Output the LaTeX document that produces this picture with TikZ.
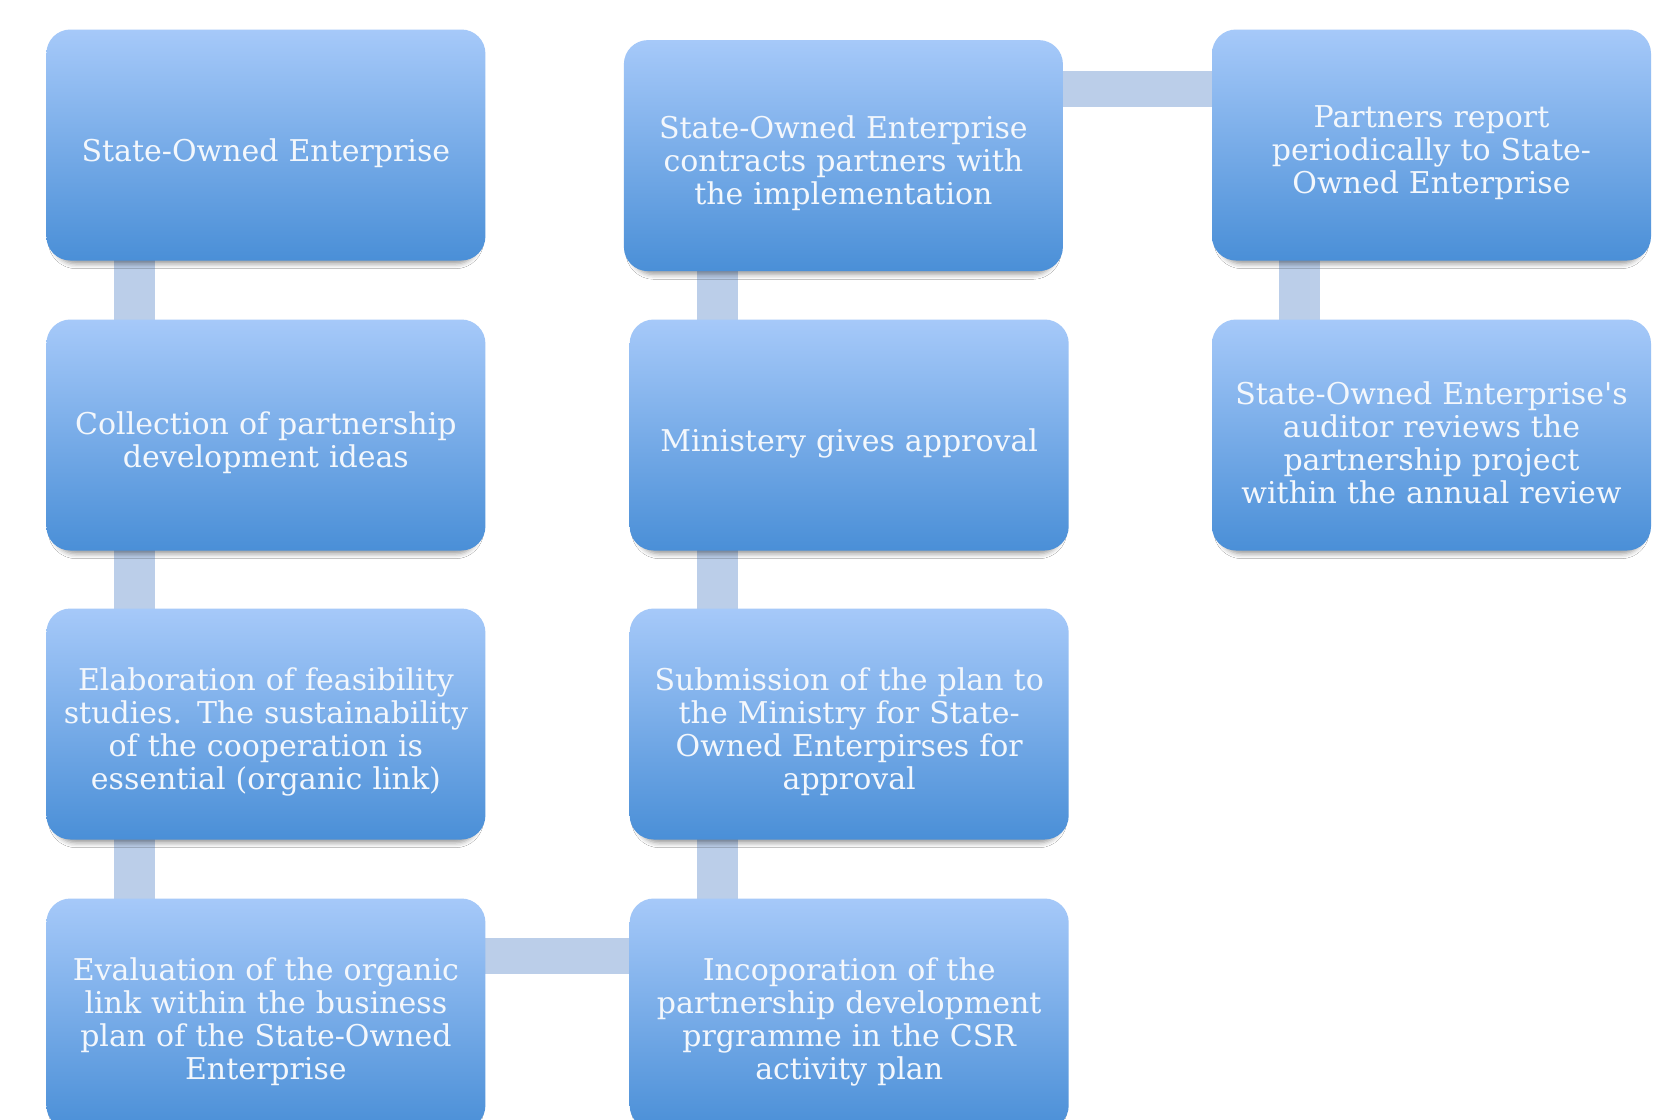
\documentclass[tikz,border=0pt]{standalone}
\usepackage{fontspec}
\setmainfont{DejaVu Serif}
\usetikzlibrary{shadows.blur,backgrounds,calc}
\definecolor{boxtop}{RGB}{166,201,249}
\definecolor{boxbot}{RGB}{74,143,215}
\definecolor{linkc}{RGB}{187,206,233}
\definecolor{txt}{RGB}{243,247,252}
\tikzset{
  stepbox/.style={rounded corners=24pt, minimum width=439pt, minimum height=231pt,
    top color=boxtop, bottom color=boxbot, inner sep=0pt,
    blur shadow={shadow xshift=0pt, shadow yshift=-7pt, shadow blur radius=5pt,
      shadow scale=0.97, shadow opacity=40}},
  steptext/.style={text=txt, text width=420pt, align=center, inner sep=0pt,
    font=\fontsize{30pt}{33pt}\selectfont},
  linkbar/.style={draw=linkc, line width=41pt},
  hlinkbar/.style={draw=linkc, line width=36pt}
}
\newcommand\stepnode[3]{%
  \node[stepbox] (#1) at (#2) {};
  \node[steptext] (#1t) at ([yshift=-8pt]#1.center) {#3};}
\begin{document}
\begin{tikzpicture}[x=1pt,y=-1pt]
\useasboundingbox (0,0) rectangle (1654,1119);
\clip (0,0) rectangle (1654,1119);
\stepnode{A1}{265.9,145}{State-Owned Enterprise}
\stepnode{A2}{265.9,435}{Collection of partnership\\development ideas}
\stepnode{A3}{265.9,724}{Elaboration of feasibility\\studies. The sustainability\\of the cooperation is\\essential (organic link)}
\stepnode{A4}{265.9,1014}{Evaluation of the organic\\link within the business\\plan of the State-Owned\\Enterprise}
\stepnode{B1}{843.4,155.6}{State-Owned Enterprise\\contracts partners with\\the implementation}
\stepnode{B2}{849.2,435}{Ministery gives approval}
\stepnode{B3}{849.2,724}{Submission of the plan to\\the Ministry for State-\\Owned Enterpirses for\\approval}
\stepnode{B4}{849.2,1014}{Incoporation of the\\partnership development\\prgramme in the CSR\\activity plan}
\stepnode{C1}{1431.5,145}{Partners report\\periodically to State-\\Owned Enterprise}
\stepnode{C2}{1431.5,435}{State-Owned Enterprise\textquotesingle s\\auditor reviews the\\partnership project\\within the annual review}
\begin{scope}[on background layer]
  \fill[white] (0,0) rectangle (1654,1119);
  \coordinate (xa) at ($(A2.north west)!0.2!(A2.north east)$);
  \coordinate (xb) at ($(B2.north west)!0.2!(B2.north east)$);
  \coordinate (xc) at ($(C2.north west)!0.2!(C2.north east)$);
  \draw[linkbar] (xa |- A1.center) -- (xa |- A2.center);
  \draw[linkbar] (xa |- A2.center) -- (xa |- A3.center);
  \draw[linkbar] (xa |- A3.center) -- (xa |- A4.center);
  \draw[linkbar] (xb |- B4.center) -- (xb |- B3.center);
  \draw[linkbar] (xb |- B3.center) -- (xb |- B2.center);
  \draw[linkbar] (xb |- B2.center) -- (xb |- B1.center);
  \draw[linkbar] (xc |- C1.center) -- (xc |- C2.center);
  \coordinate (yr1) at ($(C1.north west)!0.26!(C1.south west)$);
  \coordinate (yr4) at ($(B4.north west)!0.25!(B4.south west)$);
  \draw[hlinkbar] (yr4 -| A4.center) -- (yr4 -| B4.center);
  \draw[hlinkbar] (yr1 -| B1.center) -- (yr1 -| C1.center);
\end{scope}
\end{tikzpicture}
\end{document}
